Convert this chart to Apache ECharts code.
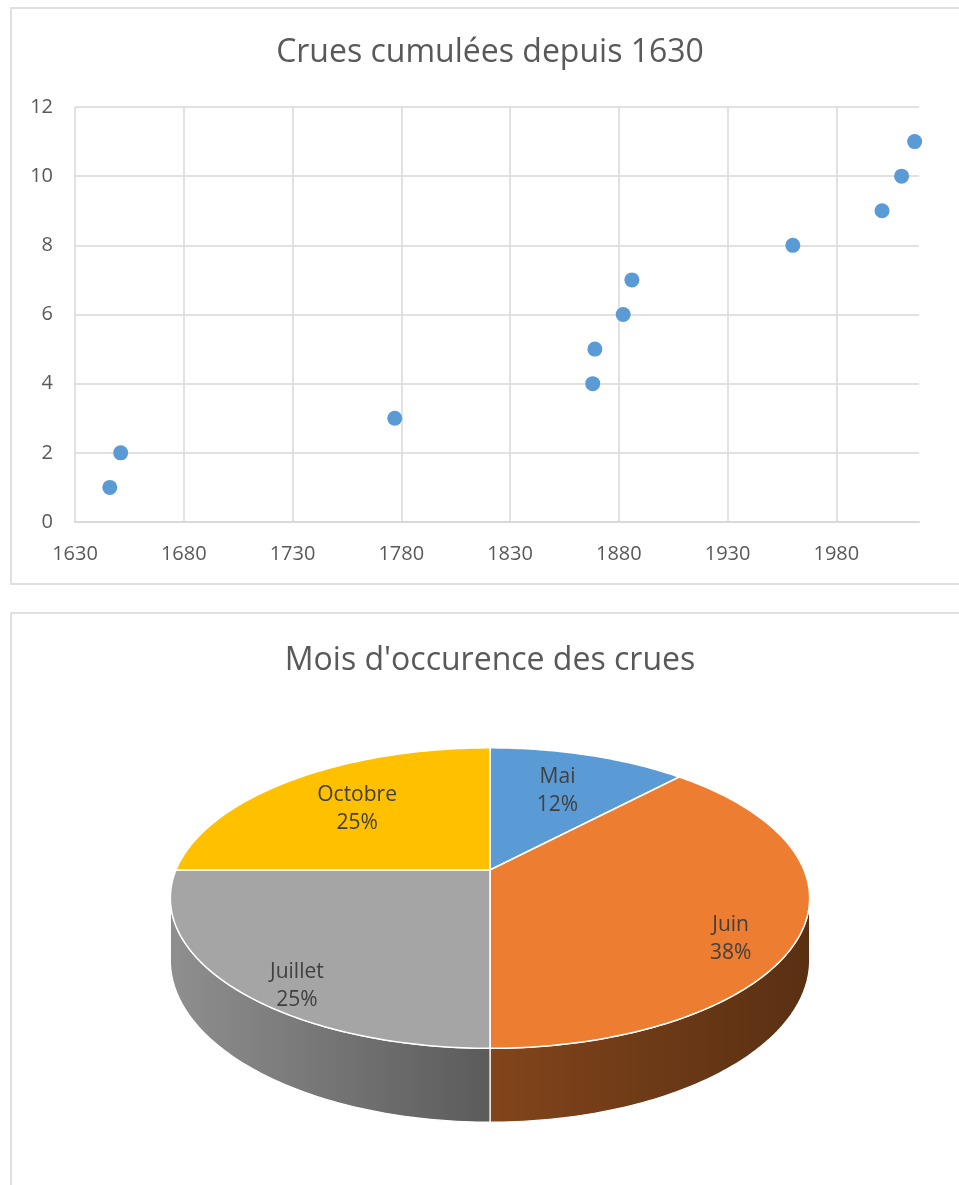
<!DOCTYPE html>
<html>
<head>
<meta charset="utf-8">
<script src="https://cdn.jsdelivr.net/npm/echarts@6/dist/echarts.min.js"></script>
<style>
  html, body { margin: 0; padding: 0; background: #fff; }
  #main { width: 959px; height: 1185px; }
</style>
</head>
<body>
<div id="main"></div>
<script>
// nuage de points : année de la crue et nombre cumulé
const crueYears = [1646, 1651, 1777, 1868, 1869, 1882, 1886, 1960, 2001, 2010, 2016]
const crueCumul = [1, 2, 3, 4, 5, 6, 7, 8, 9, 10, 11]
const yearTicks = [1630, 1680, 1730, 1780, 1830, 1880, 1930, 1980]
const yearMax = 2018
const cumulTicks = [0, 2, 4, 6, 8, 10, 12]

// camembert : mois d'occurrence des crues (%)
const months = ['Mai', 'Juin', 'Juillet', 'Octobre']
const monthShares = [12, 38, 25, 25]
const monthColors = ['#5b9bd5', '#ed7d31', '#a5a5a5', '#ffc000']

const FONT = '"Open Sans", sans-serif'
const TEXT = '#595959'
const GRIDLINE = '#d9d9d9'

// géométrie du camembert 3D (perspective simple)
const CX = 490, CY = 870, RX = 314, RY = 145, K = 0.187, DEPTH = 60
const FRONT_L = Math.acos(-K)
const FRONT_R = 2 * Math.PI - FRONT_L

function proj(theta, r, drop) {
  const x = Math.sin(theta) * r
  const z = Math.cos(theta) * r
  const f = 1 / (1 + K * z)
  return [CX + RX * x * f, CY - RY * z * f + drop * f]
}

function arc(a1, a2, drop) {
  const pts = []
  const n = Math.max(2, Math.ceil((a2 - a1) / (Math.PI / 180)))
  for (let i = 0; i <= n; i++) {
    pts.push(proj(a1 + (a2 - a1) * i / n, 1, drop))
  }
  return pts
}

function sliceAngles(idx) {
  const total = monthShares.reduce((a, b) => a + b, 0)
  let start = 0
  for (let i = 0; i < idx; i++) start += monthShares[i]
  return [start / total * 2 * Math.PI, (start + monthShares[idx]) / total * 2 * Math.PI]
}

function shade(hex, k) {
  const n = parseInt(hex.slice(1), 16)
  const r = Math.round(((n >> 16) & 255) * k)
  const g = Math.round(((n >> 8) & 255) * k)
  const b = Math.round((n & 255) * k)
  return 'rgb(' + r + ',' + g + ',' + b + ')'
}

const chart = echarts.init(document.getElementById('main'))

chart.setOption({
  backgroundColor: '#fff',
  animation: false,
  title: [{
    text: 'Crues cumulées depuis 1630',
    left: 490,
    top: 37,
    textAlign: 'center',
    padding: 0,
    textStyle: { fontFamily: FONT, fontSize: 32, fontWeight: 'normal', color: TEXT }
  }, {
    text: "Mois d'occurence des crues",
    left: 490,
    top: 645,
    textAlign: 'center',
    padding: 0,
    textStyle: { fontFamily: FONT, fontSize: 32, fontWeight: 'normal', color: TEXT }
  }],
  // cadres des deux graphiques
  graphic: [{
    type: 'rect',
    shape: { x: 11, y: 8, width: 960, height: 576 },
    style: { fill: null, stroke: '#e0e0e0', lineWidth: 2 },
    silent: true
  }, {
    type: 'rect',
    shape: { x: 11, y: 613, width: 960, height: 600 },
    style: { fill: null, stroke: '#e0e0e0', lineWidth: 2 },
    silent: true
  }],
  grid: {
    left: 75,
    right: 40,
    top: 107,
    bottom: 663,
    outerBoundsMode: 'none'
  },
  xAxis: {
    type: 'value',
    min: yearTicks[0],
    max: yearMax,
    interval: yearTicks[1] - yearTicks[0],
    axisLine: { show: true, lineStyle: { color: GRIDLINE, width: 2 } },
    axisTick: { show: false },
    axisLabel: {
      showMaxLabel: false,
      margin: 22,
      formatter: v => String(v),
      fontFamily: FONT,
      fontSize: 20,
      color: TEXT
    },
    splitLine: { show: true, showMaxLine: false, lineStyle: { color: GRIDLINE, width: 1.5 } }
  },
  yAxis: {
    type: 'value',
    min: cumulTicks[0],
    max: cumulTicks[cumulTicks.length - 1],
    interval: cumulTicks[1] - cumulTicks[0],
    axisLine: { show: false },
    axisTick: { show: false },
    axisLabel: { margin: 22, fontFamily: FONT, fontSize: 20, color: TEXT },
    splitLine: { show: true, lineStyle: { color: GRIDLINE, width: 1.5 } }
  },
  series: [{
    name: 'Crues',
    type: 'scatter',
    symbolSize: 15,
    itemStyle: { color: '#5b9bd5', opacity: 1 },
    data: crueYears.map((y, i) => [y, crueCumul[i]])
  }, {
    // flancs du camembert
    type: 'custom',
    coordinateSystem: 'none',
    silent: true,
    z: 3,
    data: monthShares,
    renderItem(params) {
      const [a1, a2] = sliceAngles(params.dataIndex)
      const b1 = Math.max(a1, FRONT_L)
      const b2 = Math.min(a2, FRONT_R)
      if (b2 <= b1) return { type: 'group', children: [] }
      const pts = arc(b1, b2, 0).concat(arc(b1, b2, DEPTH).reverse())
      const c = monthColors[params.dataIndex]
      return {
        type: 'polygon',
        shape: { points: pts },
        style: {
          fill: new echarts.graphic.LinearGradient(CX - RX, 0, CX + RX, 0, [
            { offset: 0, color: shade(c, 0.86) },
            { offset: 0.5, color: shade(c, 0.55) },
            { offset: 1, color: shade(c, 0.38) }
          ], true),
          stroke: '#fff',
          lineWidth: 1.2
        }
      }
    }
  }, {
    // faces supérieures + étiquettes
    type: 'custom',
    coordinateSystem: 'none',
    silent: true,
    z: 4,
    data: monthShares,
    renderItem(params) {
      const i = params.dataIndex
      const [a1, a2] = sliceAngles(i)
      const pts = [[CX, CY]].concat(arc(a1, a2, 0))
      const mid = (a1 + a2) / 2
      const front = Math.cos(mid) < 0
      const r = front ? 0.78 : 0.65
      const pos = proj(mid, r, front ? DEPTH * 0.4 : 0)
      return {
        type: 'group',
        children: [{
          type: 'polygon',
          shape: { points: pts },
          style: { fill: monthColors[i], stroke: '#fff', lineWidth: 1.5 }
        }, {
          type: 'text',
          x: pos[0],
          y: pos[1],
          z2: 10,
          style: {
            text: months[i] + '\n' + monthShares[i] + '%',
            fill: '#404040',
            font: '21px ' + FONT,
            lineHeight: 28,
            textAlign: 'center',
            textVerticalAlign: 'middle'
          }
        }]
      }
    }
  }]
})
</script>
</body>
</html>
